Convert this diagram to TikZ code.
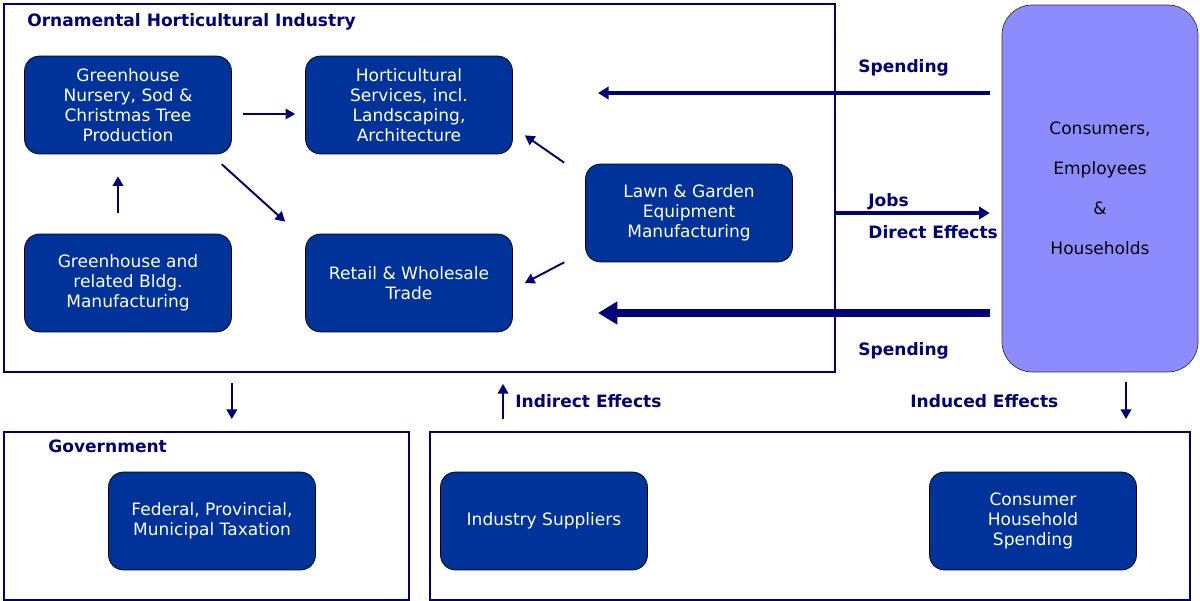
\documentclass[tikz,border=0pt]{standalone}
\usepackage{fontspec}
\setmainfont{DejaVu Sans}
\usetikzlibrary{arrows.meta,calc}

\definecolor{unitblue}{RGB}{0,51,153}
\definecolor{inkblue}{RGB}{0,0,120}
\definecolor{lilac}{RGB}{140,140,255}

\tikzset{
  unit/.style={draw=black, fill=unitblue, text=white, rounded corners=0.3cm,
    minimum width=4.14cm, minimum height=1.96cm, align=center,
    font=\fontsize{9.7}{11.4}\selectfont},
  frame/.style={draw=inkblue, line width=1.1pt, inner sep=0pt},
  tag/.style={text=inkblue, inner sep=0pt, font=\fontsize{9.7}{11}\selectfont\bfseries},
  flow/.style={draw=inkblue, line width=1.1pt, -{Triangle[length=5.5pt,width=6pt]}},
  spend/.style={draw=inkblue, line width=1.8pt, -{Triangle[length=6pt,width=7pt]}},
  bigspend/.style={draw=inkblue, line width=4pt, -{Triangle[length=11pt,width=12.5pt]}}
}

\begin{document}
\begin{tikzpicture}[x=0.02cm, y=-0.02cm]
\useasboundingbox (0,0) rectangle (1200,601);

% sector frames
\node[frame, minimum width=16.62cm, minimum height=7.36cm] (industry) at (419.5,188) {};
\node[frame, minimum width=8.1cm, minimum height=3.36cm] (gov) at (206.5,516) {};
\node[frame, minimum width=15.2cm, minimum height=3.36cm] (outer) at (810,516) {};

\node[tag, anchor=west] (title) at (27,22) {Ornamental Horticultural Industry};
\node[tag, anchor=west] (govtitle) at (48,446) {Government};

% industry units
\node[unit] (gn) at (128,105) {Greenhouse\\Nursery, Sod \&\\Christmas Tree\\Production};
\node[unit] (hs) at (409,105) {Horticultural\\Services, incl.\\Landscaping,\\Architecture};
\node[unit] (gb) at (128,283) {Greenhouse and\\related Bldg.\\Manufacturing};
\node[unit] (rw) at (409,283) {Retail \& Wholesale\\Trade};
\node[unit] (lg) at (689,213) {Lawn \& Garden\\Equipment\\Manufacturing};

% households
\node[draw=black!80, fill=lilac, rounded corners=0.6cm, minimum width=3.92cm,
  minimum height=7.34cm, align=center, font=\fontsize{9.7}{22.8}\selectfont]
  (cons) at (1100,188.5) {Consumers,\\Employees\\\&\\Households};

% outside units
\node[unit] (tax) at (212,521) {Federal, Provincial,\\Municipal Taxation};
\node[unit] (sup) at (544,521) {Industry Suppliers};
\node[unit] (chs) at (1033,521) {Consumer\\Household\\Spending};

% flows inside the industry
\draw[flow, shorten <=0.22cm, shorten >=0.2cm] ([yshift=-0.18cm]gn.east) -- ([yshift=-0.18cm]hs.west);
\draw[flow, shorten <=0.42cm, shorten >=0.44cm] ([xshift=-0.2cm]gb.north) -- ([xshift=-0.2cm]gn.south);
\draw[flow] ($(gn.south east)+(-10,10)$) -- ($(rw.north west)+(-20,-12)$);
\draw[flow] ($(lg.north west)+(-21,-1)$) -- ($(hs.south east)+(12,-19)$);
\draw[flow] ($(lg.south west)+(-21,0)$) -- ($(rw.east)+(12,0)$);

% spending and jobs
\coordinate (spendtop) at (598,93);
\coordinate (spendlow) at (598,313);
\draw[spend, shorten <=0.24cm] (cons.west |- spendtop) -- (spendtop);
\draw[bigspend, shorten <=0.24cm] (cons.west |- spendlow) -- (spendlow);
\draw[spend, shorten >=0.24cm] (industry.east |- lg) -- (cons.west |- lg);
\node[tag, anchor=west] (sp1) at (858,68) {Spending};
\node[tag, anchor=west] (sp2) at (858,351) {Spending};
\node[tag, anchor=west] (jobs) at (868,202) {Jobs};
\node[tag, anchor=west] (direct) at (868,232) {Direct Effects};

% effects between sectors
\node[tag, anchor=west] (indirect) at (515,401) {Indirect Effects};
\node[tag, anchor=west] (induced) at (910,401) {Induced Effects};
\draw[flow, shorten <=0.2cm, shorten >=0.24cm] (gn.east |- industry.south) -- (gn.east |- gov.north);
\draw[flow, shorten <=0.24cm, shorten >=0.22cm] ([xshift=-0.24cm]indirect.west |- outer.north) -- ([xshift=-0.24cm]indirect.west |- industry.south);
\draw[flow, shorten <=0.2cm, shorten >=0.24cm] ([xshift=0.52cm]cons.south) -- ([xshift=0.52cm]cons.south |- outer.north);
\end{tikzpicture}
\end{document}
